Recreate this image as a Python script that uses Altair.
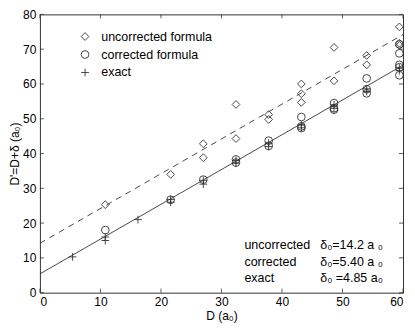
import altair as alt
import pandas as pd

# ---- data ----
unc_x = [10.8, 21.6, 27, 27, 32.4, 32.4, 37.8, 37.8, 43.2, 43.2, 43.2, 48.6, 48.6, 54, 54, 59.4, 59.4, 59.4]
unc_y = [25.3, 34.0, 42.8, 38.8, 54.1, 44.3, 51.2, 49.8, 60.0, 57.2, 54.7, 70.5, 60.9, 68.2, 65.5, 76.4, 71.7, 71.1]

cor_x = [10.8, 21.6, 27, 32.4, 32.4, 37.8, 37.8, 43.2, 43.2, 43.2, 48.6, 48.6, 48.6, 54, 54, 54, 59.4, 59.4, 59.4, 59.4, 59.4]
cor_y = [18.0, 26.7, 32.5, 38.3, 37.4, 43.7, 42.2, 50.5, 47.8, 47.3, 54.5, 53.0, 52.6, 61.6, 58.5, 57.3, 71.4, 68.8, 65.5, 64.8, 62.5]

ex_x = [5.4, 10.8, 10.8, 16.2, 21.6, 21.6, 27, 27, 32.4, 32.4, 37.8, 37.8, 43.2, 43.2, 48.6, 48.6, 54, 54, 59.4, 59.4]
ex_y = [10.3, 16.0, 15.0, 21.0, 26.8, 26.0, 32.3, 31.2, 38.0, 37.2, 43.0, 42.0, 48.2, 47.4, 54.0, 53.0, 58.6, 57.8, 64.6, 63.8]

series_names = ["uncorrected formula", "corrected formula", "exact"]

fit_x = [0, 60]
fit_unc_y = [14.2, 74.2]
fit_cor_y = [5.4, 65.4]

ann_names = ["uncorrected", "corrected", "exact"]
ann_values = ["δ₀=14.2 a ₀", "δ₀=5.40 a ₀", "δ₀ =4.85 a₀"]
ann_rows = [13.6, 8.9, 4.3]

x_ticks = [0, 10, 20, 30, 40, 50, 60]
y_ticks = [0, 10, 20, 30, 40, 50, 60, 70, 80]

# ---- layout ----
W, H = 364, 279
FONT = "Liberation Sans"
INK = "#333333"

pts = pd.concat([
    pd.DataFrame({"D": unc_x, "Dp": unc_y, "s": series_names[0]}),
    pd.DataFrame({"D": cor_x, "Dp": cor_y, "s": series_names[1]}),
    pd.DataFrame({"D": ex_x, "Dp": ex_y, "s": series_names[2]}),
])

xs = alt.Scale(domain=[0, 60], nice=False)
ys = alt.Scale(domain=[0, 80], nice=False)

xax = alt.Axis(values=x_ticks, ticks=False, domain=False, grid=False, labelFont=FONT,
               labelFontSize=12, labelColor="black", labelPadding=4, labelOverlap=False,
               title="D  (a₀)", titleFont=FONT, titleFontSize=12, titleFontWeight="normal",
               titlePadding=3, titleColor="black")
yax = alt.Axis(values=y_ticks, ticks=False, domain=False, grid=False, labelFont=FONT,
               labelFontSize=12, labelColor="black", labelPadding=4, labelOverlap=False,
               title="D'=D+δ  (a₀)", titleFont=FONT, titleFontSize=12, titleFontWeight="normal",
               titleX=-18, titleY=H / 2, titleColor="black")

X = lambda f: alt.X(f, scale=xs, axis=xax)
Y = lambda f: alt.Y(f, scale=ys, axis=yax)

line_df = pd.DataFrame({"D": fit_x, "u": fit_unc_y, "c": fit_cor_y})
dashed = alt.Chart(line_df).mark_line(color=INK, strokeWidth=0.9, strokeDash=[6, 5]).encode(
    x=X("D:Q"), y=Y("u:Q"))
solid = alt.Chart(line_df).mark_line(color=INK, strokeWidth=0.9).encode(
    x=X("D:Q"), y=Y("c:Q"))

points = alt.Chart(pts).mark_point(filled=False, color=INK, strokeWidth=0.9, size=60, opacity=1).encode(
    x=X("D:Q"),
    y=Y("Dp:Q"),
    shape=alt.Shape("s:N", scale=alt.Scale(domain=series_names,
                                           range=["diamond", "circle", "M-1,0L1,0M0,-1L0,1"]),
                    legend=alt.Legend(title=None, orient="none", legendX=39, legendY=16,
                                      labelFont=FONT, labelFontSize=12.5, labelColor="black",
                                      symbolStrokeColor=INK, symbolFillColor="transparent",
                                      symbolStrokeWidth=0.9, symbolSize=60, rowPadding=5,
                                      labelOffset=10, padding=0)),
)

tx = pd.DataFrame({"t": x_ticks})
ty = pd.DataFrame({"t": y_ticks})
tick_b = alt.Chart(tx).mark_rule(color=INK, strokeWidth=0.8).encode(
    x=X("t:Q"), y=alt.value(H), y2=alt.value(H - 4))
tick_t = alt.Chart(tx).mark_rule(color=INK, strokeWidth=0.8).encode(
    x=X("t:Q"), y=alt.value(0), y2=alt.value(4))
tick_l = alt.Chart(ty).mark_rule(color=INK, strokeWidth=0.8).encode(
    y=Y("t:Q"), x=alt.value(0), x2=alt.value(4))
tick_r = alt.Chart(ty).mark_rule(color=INK, strokeWidth=0.8).encode(
    y=Y("t:Q"), x=alt.value(W), x2=alt.value(W - 4))

ann = pd.DataFrame({"name": ann_names, "val": ann_values, "row": ann_rows})
ann_l = alt.Chart(ann).mark_text(align="left", baseline="middle", font=FONT, fontSize=12.5, color="black").encode(
    x=alt.value(205), y=Y("row:Q"), text="name:N")
ann_r = alt.Chart(ann).mark_text(align="left", baseline="middle", font=FONT, fontSize=12.5, color="black").encode(
    x=alt.value(281), y=Y("row:Q"), text="val:N")

chart = alt.layer(dashed, solid, tick_b, tick_t, tick_l, tick_r, points, ann_l, ann_r).properties(
    width=W, height=H,
    autosize=alt.AutoSizeParams(type="none"),
    padding={"left": 32, "top": 6, "right": 4, "bottom": 30},
    background="white",
).configure_view(stroke=INK, strokeWidth=1)

chart.save("out.html", embed_options={"renderer": "svg", "actions": False})
